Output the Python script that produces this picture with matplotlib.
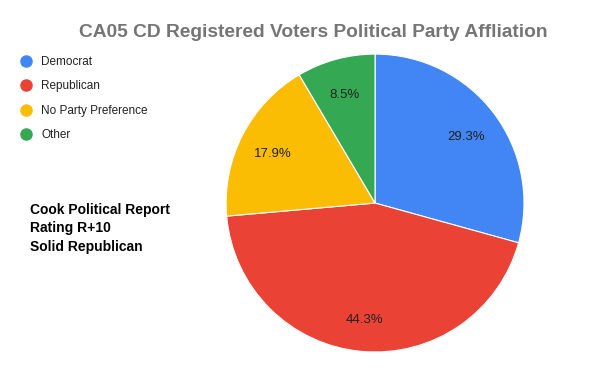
import matplotlib.pyplot as plt
import matplotlib.transforms as mtransforms
from matplotlib.lines import Line2D

# data
parties = ['Democrat', 'Republican', 'No Party Preference', 'Other']
shares = [29.3, 44.3, 17.9, 8.5]
colors = ['#4285F4', '#EA4335', '#FBBC04', '#34A853']
title = 'CA05 CD Registered Voters Political Party Affliation'
note = 'Cook Political Report\nRating R+10\nSolid Republican'

plt.rcParams['font.family'] = ['Liberation Sans', 'DejaVu Sans']

fig = plt.figure(figsize=(6, 3.71), dpi=100)
ax = fig.add_axes([0.3767, 0.0512, 0.4967, 0.803])

wedges, texts, autotexts = ax.pie(
    shares, colors=colors, startangle=90, counterclock=False,
    autopct='%.1f%%', pctdistance=0.77, radius=1,
    wedgeprops=dict(edgecolor='white', linewidth=0.8),
    textprops=dict(fontsize=9.5, color='#222222'))
# nudge the percent labels down a little, like the original
shift = mtransforms.ScaledTranslation(0, -3 / 100, fig.dpi_scale_trans)
for t in autotexts:
    t.set_transform(t.get_transform() + shift)
ax.set_xlim(-1, 1)
ax.set_ylim(-1, 1)
ax.set_aspect('equal')

fig.text(0.522, 0.913, title, ha='center', va='center',
         fontsize=13.8, fontweight='bold', color='#757575')

# legend with round markers
handles = [Line2D([0], [0], marker='o', linestyle='', markersize=8,
                  markerfacecolor=c, markeredgecolor=c) for c in colors]
fig.legend(handles, parties, loc='upper left', bbox_to_anchor=(0.015, 0.878),
           frameon=False, fontsize=8.5, handletextpad=0.85, labelspacing=1.05,
           handlelength=1.0, labelcolor='#222222')

fig.text(0.05, 0.385, note, ha='left', va='center', fontsize=10,
         fontweight='bold', linespacing=1.4,
         family=['Liberation Sans Narrow', 'Liberation Sans', 'DejaVu Sans'])

fig.savefig('out.png', dpi=100)
